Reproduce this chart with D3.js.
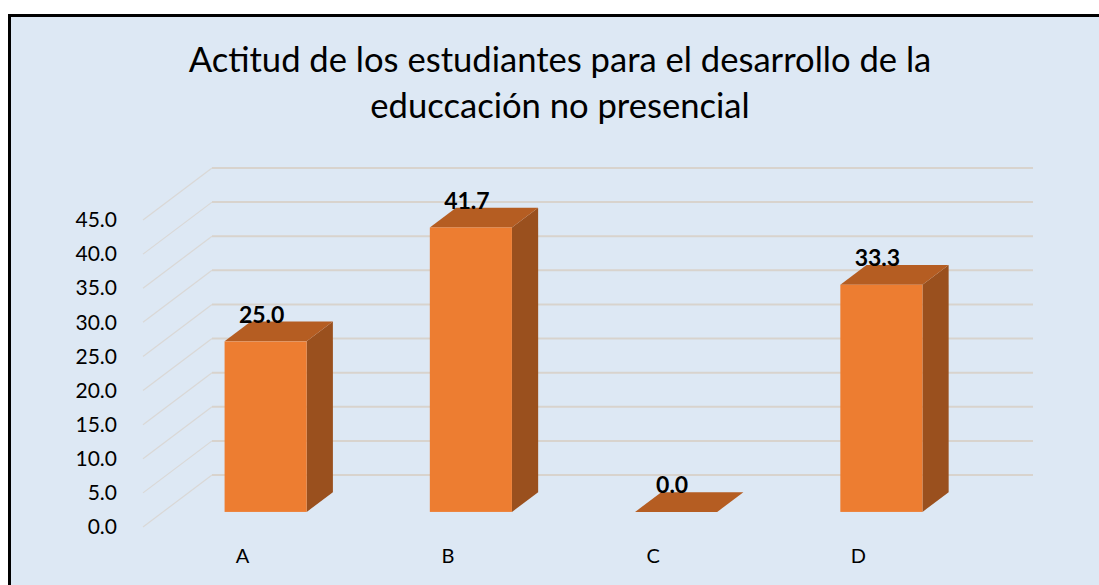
<!DOCTYPE html>
<html>
<head>
<meta charset="utf-8">
<script src="https://cdn.jsdelivr.net/npm/d3@7"></script>
<style>
  html, body { margin: 0; padding: 0; background: #ffffff; }
  svg { display: block; }
</style>
</head>
<body>
<div id="chart"></div>
<script>
// chart data
const categories = ["A", "B", "C", "D"];
const values = [25.0, 41.7, 0.0, 33.3];
const tickValues = [0, 5, 10, 15, 20, 25, 30, 35, 40, 45];
const titleLines = ["Actitud de los estudiantes para el desarrollo de la", "educcación no presencial"];

const width = 1099, height = 585;
const svg = d3.select("#chart").append("svg")
    .attr("width", width)
    .attr("height", height);

// frame
svg.append("rect")
    .attr("x", 9.5).attr("y", 15.5)
    .attr("width", 1200).attr("height", 700)
    .attr("fill", "#dde8f4")
    .attr("stroke", "#000")
    .attr("stroke-width", 3);

// title, sized to the width it has in the picture
const title = svg.append("text")
    .attr("text-anchor", "middle")
    .attr("font-family", "Lato, 'Open Sans', sans-serif")
    .attr("font-size", 32)
    .attr("fill", "#000");
titleLines.forEach((t, i) => {
    title.append("tspan").attr("x", 560).attr("y", 72 + i * 46).text(t);
});
const firstLen = title.select("tspan").node().getComputedTextLength();
title.attr("font-size", 32 * 743 / firstLen);

// 3D layout: front plane of the floor, depth of the walls
const depthX = 69, depthY = 52;
const barFront = 0.29, barBack = 0.67;

const x = d3.scaleBand()
    .domain(categories)
    .range([143, 964])
    .paddingInner(0.6)
    .paddingOuter(0.3);

const y = d3.scaleLinear()
    .domain([0, 45])
    .range([527, 220]);

// gridlines: diagonal on the side wall, straight on the back wall
const grid = svg.append("g");
tickValues.forEach(v => {
    grid.append("line")
        .attr("x1", 143).attr("y1", y(v))
        .attr("x2", 143 + depthX).attr("y2", y(v) - depthY)
        .attr("stroke", "#dad8d6")
        .attr("stroke-width", 1.2);
    grid.append("line")
        .attr("x1", 143 + depthX).attr("y1", y(v) - depthY)
        .attr("x2", 964 + depthX).attr("y2", y(v) - depthY)
        .attr("stroke", "#d8d3cd")
        .attr("stroke-width", 2);
});

// y axis labels
const yAxis = svg.append("g")
    .attr("transform", "translate(117,0)")
    .call(d3.axisLeft(y).tickValues(tickValues).tickSize(0).tickPadding(0).tickFormat(d3.format(".1f")));
yAxis.select(".domain").remove();
yAxis.selectAll("text")
    .attr("font-family", "Lato, sans-serif")
    .attr("font-size", 21)
    .attr("fill", "#000");

// x axis labels
const xAxis = svg.append("g")
    .attr("transform", "translate(-3,549)")
    .call(d3.axisBottom(x).tickSize(0).tickPadding(0));
xAxis.select(".domain").remove();
xAxis.selectAll("text")
    .attr("font-family", "Lato, sans-serif")
    .attr("font-size", 20)
    .attr("fill", "#000");

// bars
const ox = barFront * depthX, oy = barFront * depthY;
const dx = (barBack - barFront) * depthX, dy = (barBack - barFront) * depthY;
const bw = x.bandwidth();

const bars = svg.selectAll("g.bar")
    .data(categories.map((c, i) => ({ cat: c, value: values[i] })))
    .enter().append("g")
    .attr("class", "bar");

bars.each(function (d) {
    const g = d3.select(this);
    const xl = x(d.cat) + ox, xr = xl + bw;
    const y0 = y(0) - oy, yt = y(d.value) - oy;

    // right side
    g.append("polygon")
        .attr("points", [[xr, yt], [xr + dx, yt - dy], [xr + dx, y0 - dy], [xr, y0]].join(" "))
        .attr("fill", "#9a501e");
    // top
    g.append("polygon")
        .attr("points", [[xl, yt], [xr, yt], [xr + dx, yt - dy], [xl + dx, yt - dy]].join(" "))
        .attr("fill", "#b55d22");
    // front
    g.append("rect")
        .attr("x", xl).attr("y", yt)
        .attr("width", bw).attr("height", y0 - yt)
        .attr("fill", "#ed7d31");

    // value label
    g.append("text")
        .attr("x", xl + bw / 2 - 4)
        .attr("y", yt - dy + 1)
        .attr("text-anchor", "middle")
        .attr("font-family", "Lato, sans-serif")
        .attr("font-weight", "bold")
        .attr("font-size", 23)
        .attr("fill", "#000")
        .text(d3.format(".1f")(d.value));
});
</script>
</body>
</html>
